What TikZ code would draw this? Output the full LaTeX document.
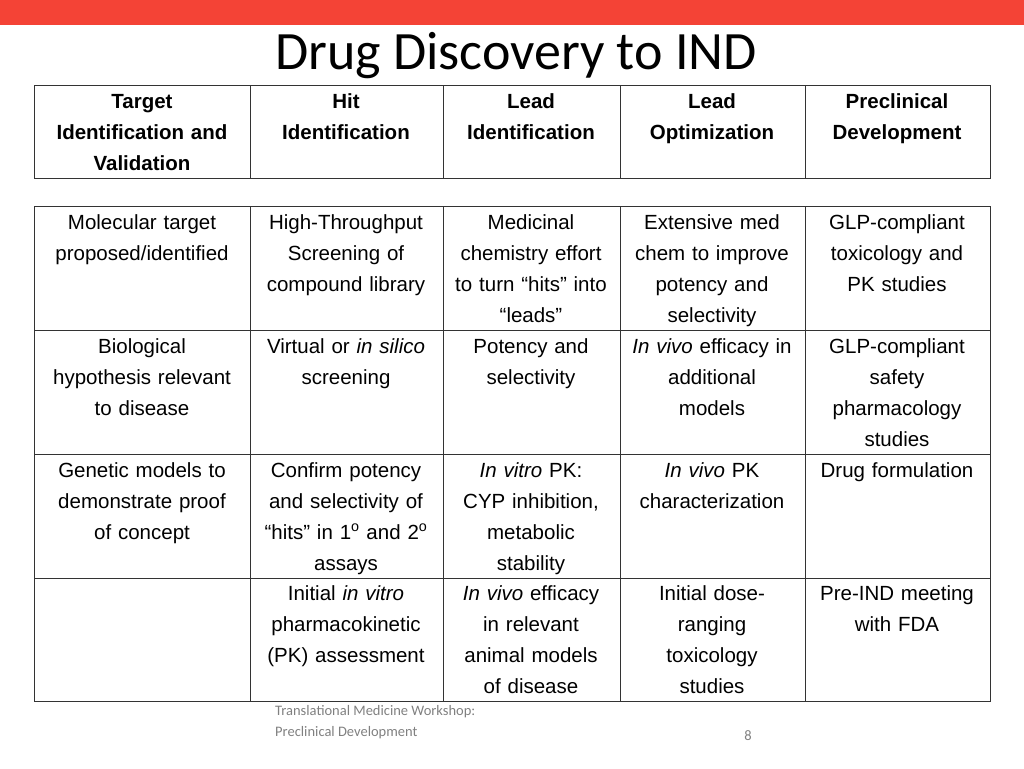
\documentclass[tikz,border=0pt]{standalone}
\usepackage{fontspec}
\setmainfont{Liberation Sans}
\newfontfamily\calib{Carlito}
\definecolor{topred}{HTML}{F44336}
\definecolor{foot}{HTML}{808080}
\begin{document}
\begin{tikzpicture}[x=1pt,y=-1pt,
  cell/.style={anchor=base,text width=190pt,align=center,inner sep=0pt,font=\fontsize{20.5}{31.2}\selectfont},
  hcell/.style={cell,font=\fontsize{20.5}{31.2}\selectfont\bfseries},
  grid/.style={draw=black!80,line width=0.9pt}]
\useasboundingbox (0,0) rectangle (1024,768);
\fill[topred] (0,0) rectangle (1024,25);
\node[font=\calib\fontsize{54}{60}\selectfont,anchor=base,inner sep=0pt] (title) at (516,70) {Drug Discovery to IND};
% header grid
\draw[grid] (34,85) rectangle (990,178);
\foreach \x in {250,443,620,805} \draw[grid] (\x,85) -- (\x,178);
% body grid
\draw[grid] (34,206) rectangle (990,701);
\foreach \x in {250,443,620,805} \draw[grid] (\x,206) -- (\x,701);
\foreach \y in {330,454,578} \draw[grid] (34,\y) -- (990,\y);
% header
\node[hcell] (h1) at (142,108) {Target\\Identification and\\Validation};
\node[hcell] (h2) at (346,108) {Hit\\Identification};
\node[hcell] (h3) at (531,108) {Lead\\Identification};
\node[hcell] (h4) at (712,108) {Lead\\Optimization};
\node[hcell] (h5) at (897,108) {Preclinical\\Development};
% row 1
\node[cell] (a1) at (142,229) {Molecular target\\proposed/identified};
\node[cell] (a2) at (346,229) {High-Throughput\\Screening of\\compound library};
\node[cell] (a3) at (531,229) {Medicinal\\chemistry effort\\to turn “hits” into\\“leads”};
\node[cell] (a4) at (712,229) {Extensive med\\chem to improve\\potency and\\selectivity};
\node[cell] (a5) at (897,229) {GLP-compliant\\toxicology and\\PK studies};
% row 2
\node[cell] (b1) at (142,353) {Biological\\hypothesis relevant\\to disease};
\node[cell] (b2) at (346,353) {Virtual or \textit{in silico}\\screening};
\node[cell] (b3) at (531,353) {Potency and\\selectivity};
\node[cell] (b4) at (712,353) {\textit{In vivo} efficacy in\\additional\\models};
\node[cell] (b5) at (897,353) {GLP-compliant\\safety\\pharmacology\\studies};
% row 3
\node[cell] (c1) at (142,477) {Genetic models to\\demonstrate proof\\of concept};
\node[cell] (c2) at (346,477) {Confirm potency\\and selectivity of\\“hits” in 1\textsuperscript{o} and 2\textsuperscript{o}\\assays};
\node[cell] (c3) at (531,477) {\textit{In vitro} PK:\\CYP inhibition,\\metabolic\\stability};
\node[cell] (c4) at (712,477) {\textit{In vivo} PK\\characterization};
\node[cell] (c5) at (897,477) {Drug formulation};
% row 4
\node[cell] (d2) at (346,600) {Initial \textit{in vitro}\\pharmacokinetic\\(PK) assessment};
\node[cell] (d3) at (531,600) {\textit{In vivo} efficacy\\in relevant\\animal models\\of disease};
\node[cell] (d4) at (712,600) {Initial dose-\\ranging\\toxicology\\studies};
\node[cell] (d5) at (897,600) {Pre-IND meeting\\with FDA};
% footer
\node[anchor=base west,inner sep=0pt,align=left,text=foot,font=\calib\fontsize{14.5}{21}\selectfont] (ft) at (275,736) {Translational Medicine Workshop:\\Preclinical Development};
\node[anchor=base,inner sep=0pt,text=foot,font=\calib\fontsize{14.5}{21}\selectfont] (pg) at (748,740) {8};
\end{tikzpicture}
\end{document}
